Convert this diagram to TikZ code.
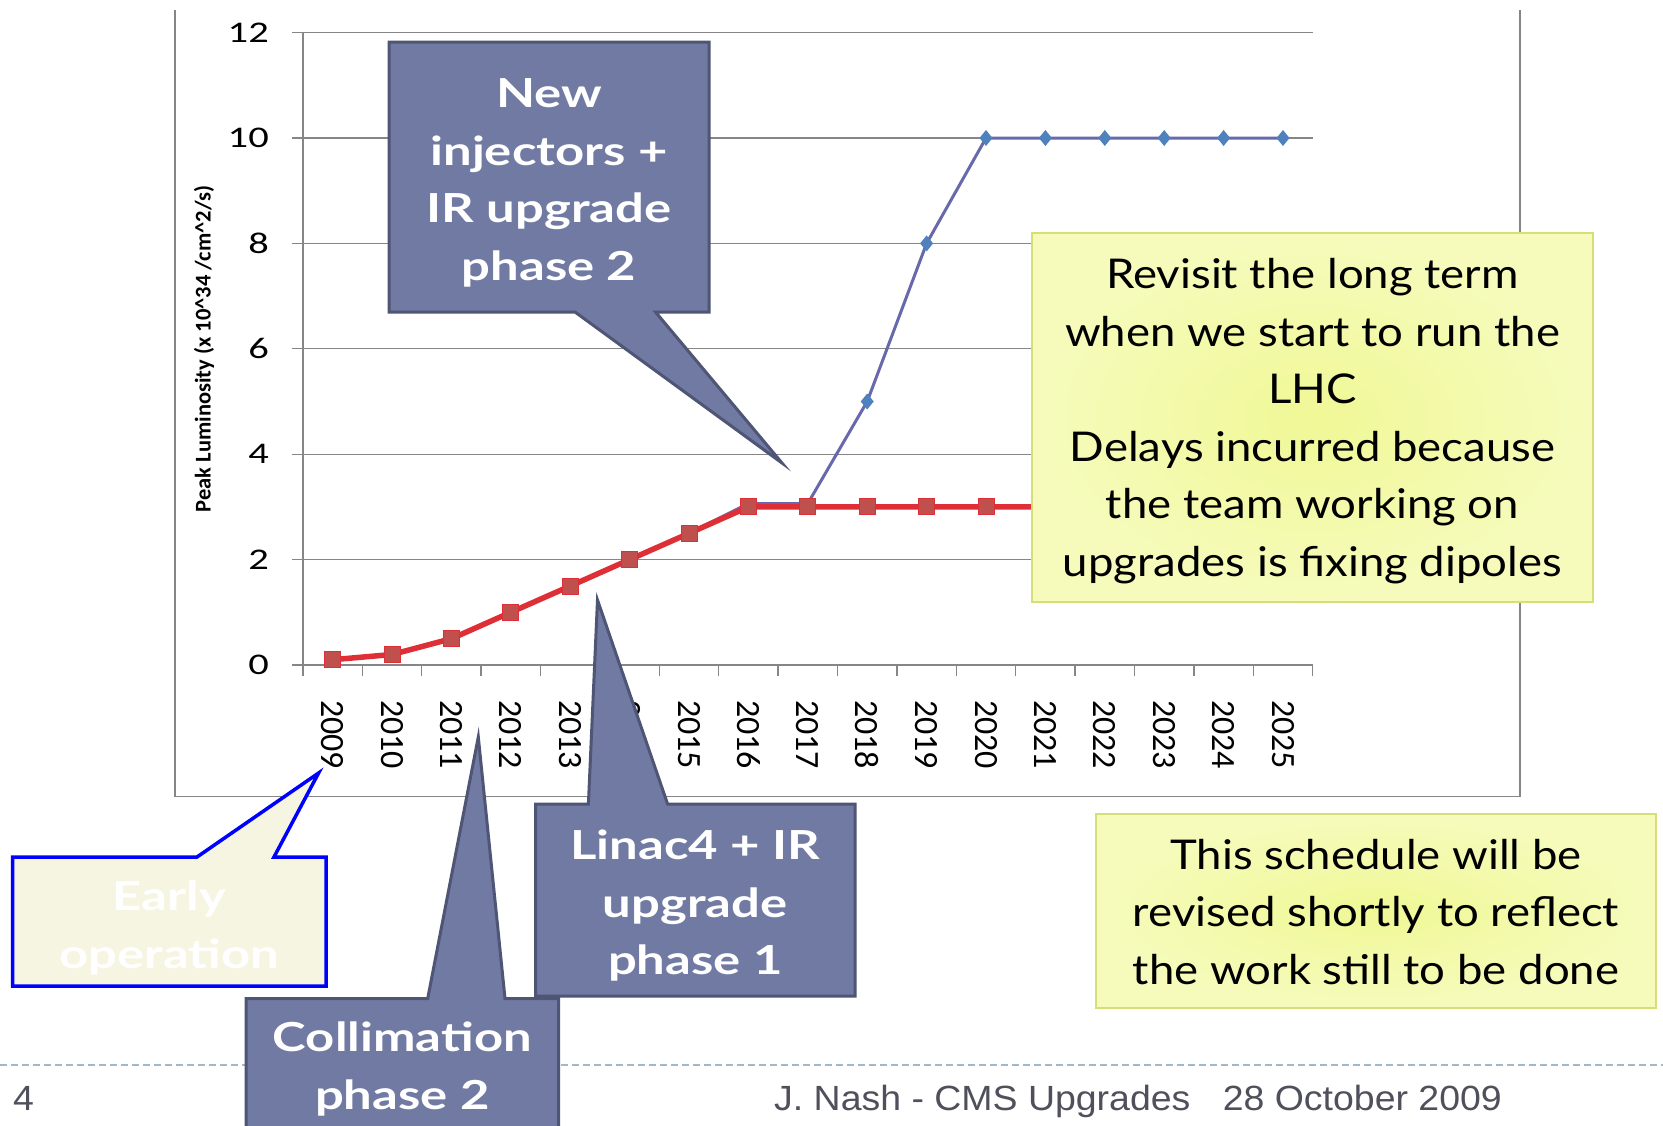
\documentclass[tikz,border=0pt]{standalone}
\usepackage{fontspec}
\setmainfont{Lato}
\newfontfamily\chartfont{Carlito}
\newfontfamily\ylabfont[FakeStretch=1.35]{Carlito}
\newfontfamily\notefont[FakeStretch=1.11]{Lato}
\newfontfamily\callfont[FakeStretch=1.27]{Lato}
\newfontfamily\footfont[FakeStretch=1.07]{Liberation Sans}
\definecolor{gridgrey}{RGB}{134,134,134}
\definecolor{calloutfill}{RGB}{113,122,162}
\definecolor{calloutedge}{RGB}{78,85,117}
\definecolor{noteyellow}{RGB}{240,248,150}
\definecolor{notepale}{RGB}{246,251,188}
\definecolor{noteedge}{RGB}{214,222,120}
\definecolor{earlyfill}{RGB}{245,245,226}
\definecolor{earlyedge}{RGB}{0,0,255}
\definecolor{redline}{RGB}{222,46,54}
\definecolor{redmark}{RGB}{192,80,77}
\definecolor{blueline}{RGB}{104,104,172}
\definecolor{bluemark}{RGB}{79,129,189}
\definecolor{footgrey}{RGB}{80,80,92}
\definecolor{footdash}{RGB}{158,184,204}
\begin{document}
\begin{tikzpicture}[x=1pt,y=-1pt,
  gridline/.style={draw=gridgrey, line width=1.3},
  framebox/.style={draw=gridgrey, line width=1.8},
  callout/.style={fill=calloutfill, draw=calloutedge, line width=3, line join=miter},
  calltext/.style={text=white, font=\callfont\bfseries\fontsize{40}{57.5}\selectfont, align=center, inner sep=0},
  notebox/.style={inner color=noteyellow, outer color=notepale, draw=noteedge, line width=2},
  notetext/.style={text=black, font=\notefont\fontsize{41}{57.5}\selectfont, align=center, inner sep=0},
  ylab/.style={font=\ylabfont\fontsize{30}{30}\selectfont, anchor=east, inner sep=0},
  xlab/.style={font=\chartfont\fontsize{34}{34}\selectfont, anchor=west, rotate=-90, inner sep=0},
  redsq/.style={fill=redmark, draw=redline, line width=1, minimum size=16, inner sep=0, rectangle},
  footer/.style={text=footgrey, font=\footfont\fontsize{35}{35}\selectfont, inner sep=0}
]
\useasboundingbox (0,0) rectangle (1663,1125);
\clip (0,0) rectangle (1663,1125);
\fill[white] (0,0) rectangle (1663,1125);

% chart frame (open at the top)
\draw[framebox] (175,10) -- (175,796.5) -- (1520,796.5) -- (1520,10);

% grid lines and y labels
\foreach \v in {0,2,...,12} {
  \draw[gridline] (292,{665-52.7*\v}) -- (1313,{665-52.7*\v});
  \node[ylab] (y\v) at (269,{665-52.7*\v}) {\v};
}
% axes and ticks
\draw[gridline] (302.9,32.6) -- (302.9,676);
\foreach \k in {1,...,17} {
  \draw[gridline] ({302.9+59.4*\k},665) -- ({302.9+59.4*\k},676);
}
% x labels
\foreach \yr [count=\i from 0] in {2009,...,2025} {
  \node[xlab] (x\yr) at ({332.6+59.4*\i},700) {\yr};
}
% y axis title
\node[font=\chartfont\bfseries\fontsize{22.5}{22.5}\selectfont, rotate=90, inner sep=0] (ytitle) at (204,349)
  {Peak Luminosity (x 10\textasciicircum 34 /cm\textasciicircum 2/s)};

% blue series (under red)
\draw[blueline, line width=3, line join=round]
  (332.6,659.7) -- (392.0,654.5) -- (451.4,638.7) -- (510.8,612.3) -- (570.2,586) -- (629.6,559.6)
  -- (689.0,533.3) -- (748.4,503.5) -- (807.8,503.5) -- (867.2,401.5) -- (926.6,243.4) -- (986.0,138)
  -- (1045.4,138) -- (1104.8,138) -- (1164.2,138) -- (1223.6,138) -- (1283.0,138);
\foreach \px/\py in {867.2/401.5,926.6/243.4,986.0/138,1045.4/138,1104.8/138,1164.2/138,1223.6/138,1283.0/138} {
  \fill[bluemark] (\px,\py-8) -- (\px+6.5,\py) -- (\px,\py+8) -- (\px-6.5,\py) -- cycle;
}
% red series
\draw[redline, line width=5.5, line join=round]
  (332.6,659.7) -- (392.0,654.5) -- (451.4,638.7) -- (510.8,612.3) -- (570.2,586) -- (629.6,559.6)
  -- (689.0,533.3) -- (748.4,506.9) -- (807.8,506.9) -- (867.2,506.9) -- (926.6,506.9) -- (986.0,506.9)
  -- (1045.4,506.9) -- (1104.8,506.9) -- (1164.2,506.9) -- (1223.6,506.9) -- (1283.0,506.9);
\foreach \px/\py [count=\n] in {332.6/659.7,392.0/654.5,451.4/638.7,510.8/612.3,570.2/586,629.6/559.6,689.0/533.3,748.4/506.9,807.8/506.9,867.2/506.9,926.6/506.9,986.0/506.9,1045.4/506.9,1104.8/506.9,1164.2/506.9,1223.6/506.9,1283.0/506.9} {
  \node[redsq] (r\n) at (\px,\py) {};
}

% yellow notes
\draw[notebox] (1032,233) rectangle (1592.5,602);
\node[notetext] (note1) at (1312.5,421) {Revisit the long term\\when we start to run the\\LHC\\Delays incurred because\\the team working on\\upgrades is fixing dipoles};
\draw[notebox] (1096,813.5) rectangle (1656,1008);
\node[notetext] (note2) at (1376,912) {This schedule will be\\revised shortly to reflect\\the work still to be done};

% footer
\draw[footdash, line width=2, dash pattern=on 7 off 4] (0,1064.5) -- (1663,1064.5);
\node[footer, anchor=base west] (pagenum) at (13,1110) {4};
\node[footer, anchor=base west] (author) at (774,1110) {J. Nash - CMS Upgrades};
\node[footer, anchor=base east] (date) at (1502,1110) {28 October 2009};

% callouts
\draw[callout] (389,42) -- (709,42) -- (709,312) -- (655.5,312) -- (782,463) -- (575,312) -- (389,312) -- cycle;
\node[calltext] (c1) at (549,183) {New\\injectors +\\IR upgrade\\phase 2};

\draw[callout] (535.6,804) -- (588.4,804) -- (597.5,600) -- (667.6,804) -- (855,804) -- (855,996) -- (535.6,996) -- cycle;
\node[calltext] (c2) at (695.3,906) {Linac4 + IR\\upgrade\\phase 1};

\draw[callout] (246,998.5) -- (427.7,998.5) -- (478.3,737) -- (505,998.5) -- (558.6,998.5) -- (558.6,1140) -- (246,1140) -- cycle;
\node[calltext] (c3) at (402.3,1069) {Collimation\\phase 2};

\draw[fill=earlyfill, draw=earlyedge, line width=3.5, line join=miter] (12.6,857) -- (197,857) -- (318.6,773) -- (274,857) -- (326,857) -- (326,986) -- (12.6,986) -- cycle;
\node[calltext] (c4) at (169.5,928) {Early\\operation};
\end{tikzpicture}
\end{document}
